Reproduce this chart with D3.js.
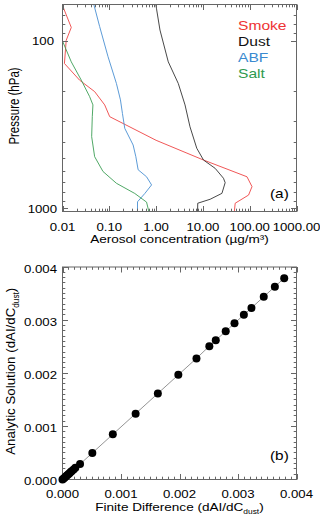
<!DOCTYPE html>
<html><head><meta charset="utf-8">
<script src="https://cdn.jsdelivr.net/npm/d3@7"></script>
<style>body{margin:0;background:#fff}svg{display:block}text{font-family:"Liberation Sans",Arial,sans-serif}</style>
</head><body><svg id="c" width="320" height="520"></svg>
<script>
// ---------- data: panel (a) ----------
const seriesNames = ["Smoke", "Dust", "ABF", "Salt"];
const smokeP = [61, 83, 99, 136, 171, 200, 240, 282, 390, 511, 643, 736, 826, 924, 1035];
const smokeC = [0.0099, 0.0154, 0.0120, 0.0110, 0.0232, 0.0486, 0.0797, 0.102, 1.0, 10.3, 87.5, 112, 94.6, 49, 47];
const dustP = [61, 86, 133, 179, 240, 324, 435, 511, 573, 656, 697, 807, 875, 924, 1035];
const dustC = [0.99, 1.21, 1.82, 2.98, 4.15, 5.3, 7.4, 10.3, 18.3, 27.5, 29.9, 25.5, 14.3, 7.76, 7.7];
const abfP = [61, 82, 124, 179, 224, 270, 331, 416, 488, 584, 643, 719, 808, 906, 1035];
const abfC = [0.047, 0.0622, 0.094, 0.142, 0.173, 0.191, 0.214, 0.323, 0.369, 0.413, 0.625, 0.80, 0.575, 0.401, 0.40];
const saltP = [100, 133, 171, 214, 240, 282, 371, 488, 598, 703, 808, 910, 1035];
const saltC = [0.0100, 0.0154, 0.0252, 0.0379, 0.0447, 0.0433, 0.042, 0.0486, 0.0733, 0.142, 0.35, 0.625, 0.70];
const concTicks = [0.01, 0.1, 1, 10, 100, 1000];
const concTickLabels = ["0.01", "0.10", "1.00", "10.00", "100.00", "1000.00"];
const presTicks = [100, 1000];
const presTickLabels = ["100", "1000"];

// ---------- data: panel (b) ----------
const finiteDiff = [0, 0.00002, 0.00004, 0.00006, 0.00008, 0.00010, 0.00012, 0.00014, 0.00016, 0.00019, 0.00022, 0.00030, 0.00051, 0.00086, 0.00125, 0.00163, 0.00198, 0.00229, 0.00251, 0.00262, 0.00279, 0.00294, 0.00310, 0.00323, 0.00344, 0.00363, 0.00379];
const analytic   = [0, 0.00002, 0.00004, 0.00006, 0.00008, 0.00010, 0.00012, 0.00014, 0.00016, 0.00019, 0.00022, 0.00029, 0.00050, 0.00085, 0.00124, 0.00162, 0.00197, 0.00228, 0.00251, 0.00262, 0.00279, 0.00294, 0.00310, 0.00323, 0.00344, 0.00363, 0.00379];
const derivTicks = [0, 0.001, 0.002, 0.003, 0.004];
const derivTickLabels = ["0.000", "0.001", "0.002", "0.003", "0.004"];

// ---------- styles ----------
const lineColors = {Smoke: "#ee4444", Dust: "#333333", ABF: "#4a90d2", Salt: "#3c9e55"};
const textColors = {Smoke: "#ee3333", Dust: "#111111", ABF: "#3a8ad0", Salt: "#2e9a4e"};
const frameColor = "#666";
const SX = 1.2; // horizontal stretch of the original figure
const MAJ = 5.5, MIN = 2.8;

const svg = d3.select("#c");

function label(x, y, str, size, anchor, opt = {}) {
  const g = svg.append("g").attr("transform",
    `translate(${x},${y}) scale(${opt.sx ?? SX},1)` + (opt.rot ? " rotate(-90)" : ""));
  const t = g.append("text").attr("text-anchor", anchor).style("font-size", size + "px")
    .attr("fill", opt.color || "#000");
  if (opt.sub) {
    t.append("tspan").text(str);
    t.append("tspan").text(opt.sub).style("font-size", (size * 0.62) + "px").attr("dy", size * 0.28);
    t.append("tspan").text(opt.tail || "").attr("dy", -size * 0.28);
  } else t.text(str);
  return t;
}

// ================= panel (a) =================
const A = {l: 62.5, r: 296.5, t: 4.5, b: 211.5};
const xA = d3.scaleLog().domain([0.01, 1000]).range([A.l, A.r]);
const yA = d3.scaleLog().domain([1035, 60.6]).range([A.b, A.t]);

svg.append("clipPath").attr("id", "clipA").append("rect")
  .attr("x", A.l).attr("y", A.t).attr("width", A.r - A.l).attr("height", A.b - A.t);

const seriesA = [
  {name: "Smoke", p: smokeP, c: smokeC},
  {name: "Dust", p: dustP, c: dustC},
  {name: "ABF", p: abfP, c: abfC},
  {name: "Salt", p: saltP, c: saltC}
];
const lineA = d3.line().x(d => xA(d[1])).y(d => yA(d[0]));
const gA = svg.append("g").attr("clip-path", "url(#clipA)");
seriesA.forEach(s => {
  gA.append("path").datum(s.p.map((p, i) => [p, s.c[i]]))
    .attr("d", lineA).attr("fill", "none").attr("stroke", lineColors[s.name]).attr("stroke-width", 0.9);
});

// frame and ticks
svg.append("rect").attr("x", A.l).attr("y", A.t).attr("width", A.r - A.l).attr("height", A.b - A.t)
  .attr("fill", "none").attr("stroke", frameColor);
const xMinorA = [];
[0.01, 0.1, 1, 10, 100].forEach(d => { for (let k = 2; k <= 9; k++) xMinorA.push(d * k); });
const yMinorA = [70, 80, 90, 200, 300, 400, 500, 600, 700, 800, 900];
const tk = svg.append("g").attr("stroke", frameColor).attr("stroke-width", 1);
function xTicks(scale, vals, len, top, bot) {
  vals.forEach(v => {
    const x = Math.round(scale(v)) + 0.5;
    tk.append("line").attr("x1", x).attr("x2", x).attr("y1", bot).attr("y2", bot - len);
    tk.append("line").attr("x1", x).attr("x2", x).attr("y1", top).attr("y2", top + len);
  });
}
function yTicks(scale, vals, len, left, right) {
  vals.forEach(v => {
    const y = Math.round(scale(v) - 0.5) + 0.5;
    tk.append("line").attr("y1", y).attr("y2", y).attr("x1", left).attr("x2", left + len);
    tk.append("line").attr("y1", y).attr("y2", y).attr("x1", right).attr("x2", right - len);
  });
}
xTicks(xA, concTicks, MAJ, A.t, A.b);
xTicks(xA, xMinorA, MIN, A.t, A.b);
yTicks(yA, presTicks, MAJ, A.l, A.r);
yTicks(yA, yMinorA, MIN, A.l, A.r);

concTicks.forEach((v, i) => label(xA(v), 230.5, concTickLabels[i], 11, "middle"));
presTicks.forEach((v, i) => label(i === 0 ? 54 : 57, yA(v) + 4, presTickLabels[i], 11, "end"));
label((A.l + A.r) / 2, 243, "Aerosol concentration (\u00b5g/m\u00b3)", 11.3, "middle");
label(19, (A.t + A.b) / 2 - 2, "Pressure (hPa)", 11.5, "middle", {rot: true});

seriesNames.forEach((n, i) => label(238, 29.5 + i * 16.3, n, 13, "start", {color: textColors[n]}));
label(270, 197.5, "(a)", 12.8, "start");

// ================= panel (b) =================
const B = {l: 62.5, r: 296.5, t: 267, b: 479.5};
const xB = d3.scaleLinear().domain([0, 0.004]).range([B.l, B.r]);
const yB = d3.scaleLinear().domain([0, 0.004]).range([B.b, B.t]);

svg.append("rect").attr("x", B.l).attr("y", B.t).attr("width", B.r - B.l).attr("height", B.b - B.t)
  .attr("fill", "none").attr("stroke", frameColor);
const minorB = d3.range(0, 41).map(i => i * 0.0001).filter(v => Math.round(v * 10000) % 10 !== 0);
xTicks(xB, derivTicks, MAJ, B.t, B.b);
xTicks(xB, minorB, MIN, B.t, B.b);
yTicks(yB, derivTicks, MAJ, B.l, B.r);
yTicks(yB, minorB, MIN, B.l, B.r);

const ptsB = finiteDiff.map((v, i) => [v, analytic[i]]);
svg.append("path").datum(ptsB)
  .attr("d", d3.line().x(d => xB(d[0])).y(d => yB(d[1])))
  .attr("fill", "none").attr("stroke", "#888").attr("stroke-width", 0.9);
svg.append("g").selectAll("circle").data(ptsB).join("circle")
  .attr("cx", d => xB(d[0])).attr("cy", d => yB(d[1])).attr("r", 4).attr("fill", "#000");

derivTicks.forEach((v, i) => label(xB(v), 498, derivTickLabels[i], 11, "middle"));
derivTicks.forEach((v, i) => label(57, yB(v) + 5.5, derivTickLabels[i], 11, "end"));
label((B.l + B.r) / 2, 511, "Finite Difference (dAI/dC", 11.3, "middle", {sub: "dust", tail: ")"});
label(15, (B.t + B.b) / 2 - 2, "Analytic Solution (dAI/dC", 13.3, "middle", {rot: true, sx: 1.0, sub: "dust", tail: ")"});
label(270, 460, "(b)", 12.8, "start");
</script></body></html>
